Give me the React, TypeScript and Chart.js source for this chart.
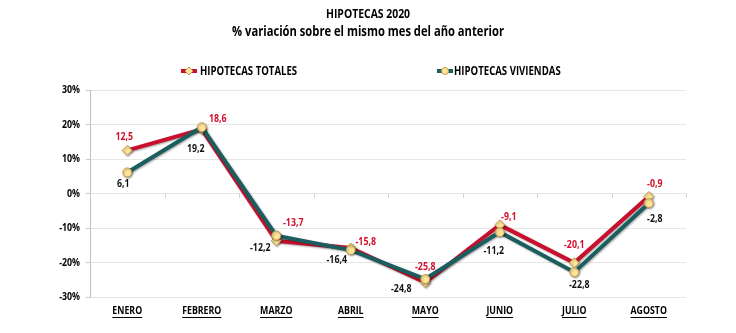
import React, { useEffect, useRef } from "react";
import { Chart, registerables } from "chart.js";

Chart.register(...registerables);

const categories = ["ENERO", "FEBRERO", "MARZO", "ABRIL", "MAYO", "JUNIO", "JULIO", "AGOSTO"];
const totales = [12.5, 18.6, -13.7, -15.8, -25.8, -9.1, -20.1, -0.9];
const viviendas = [6.1, 19.2, -12.2, -16.4, -24.8, -11.2, -22.8, -2.8];
const yMin = -30;
const yMax = 30;
const yStep = 10;

const titleText = "HIPOTECAS 2020";
const subtitleText = "% variación sobre el mismo mes del año anterior";

// label offsets (dx, dy) from the point, in px
const totalesLabelOffsets = [[-3, -14], [16, -10], [17, -18], [15, -6], [0, -16], [9, -8], [0, -18], [6, -13]];
const viviendasLabelOffsets = [[-4, 11], [-6, 22], [-16, 12], [-14, 10], [-24, 10], [-6, 19], [5, 13], [6, 16]];

const FONT = "'Open Sans', Lato, 'DejaVu Sans', sans-serif";
const SX = 0.8; // horizontal text compression to mimic a narrow face
const RED = "#C8102E";
const TEAL = "#1B5E5F";
const MARK_FILL = "#FFE59A";
const MARK_BORDER = "#C49A4A";

const fmt = (v: number) => v.toFixed(1).replace(".", ",");

function txt(ctx: CanvasRenderingContext2D, s: string, x: number, y: number) {
  ctx.save();
  ctx.translate(x, y);
  ctx.scale(SX, 1);
  ctx.fillText(s, 0, 0);
  ctx.restore();
}

const decorPlugin = {
  id: "decor",
  beforeDatasetsDraw(chart: any) {
    const ctx = chart.ctx;
    const xs = chart.scales.x;
    const ys = chart.scales.y;
    const y0 = ys.getPixelForValue(0);
    ctx.save();
    ctx.strokeStyle = "#cfcfcf";
    ctx.lineWidth = 1;
    for (let i = 0; i <= categories.length; i++) {
      const x = Math.round(xs.left + (i * (xs.right - xs.left)) / categories.length) + 0.5;
      ctx.beginPath();
      ctx.moveTo(x, y0);
      ctx.lineTo(x, y0 + 4);
      ctx.stroke();
    }
    ctx.restore();
  },
  afterDraw(chart: any) {
    const ctx = chart.ctx;
    const xs = chart.scales.x;
    const ys = chart.scales.y;
    ctx.save();
    ctx.fillStyle = "#000";
    ctx.textAlign = "center";
    ctx.textBaseline = "middle";
    ctx.font = `bold 13px ${FONT}`;
    txt(ctx, titleText, chart.width / 2, 14);
    ctx.font = `bold 14px ${FONT}`;
    txt(ctx, subtitleText, chart.width / 2, 32);

    // y tick labels
    ctx.font = `bold 11px ${FONT}`;
    ctx.textAlign = "right";
    ys.ticks.forEach((t: any) => {
      txt(ctx, `${t.value}%`, ys.right - 10, ys.getPixelForValue(t.value));
    });

    // legend
    const legend = [
      { text: chart.data.datasets[0].label, color: RED, style: "rectRot", cx: 189, tx: 200 },
      { text: chart.data.datasets[1].label, color: TEAL, style: "circle", cx: 445, tx: 454 },
    ];
    ctx.font = `bold 12px ${FONT}`;
    ctx.textAlign = "left";
    for (const it of legend) {
      const ly = 71;
      ctx.strokeStyle = it.color;
      ctx.lineWidth = 4;
      ctx.beginPath();
      ctx.moveTo(it.cx - 8, ly);
      ctx.lineTo(it.cx + 8, ly);
      ctx.stroke();
      ctx.fillStyle = MARK_FILL;
      ctx.strokeStyle = MARK_BORDER;
      ctx.lineWidth = 1;
      ctx.beginPath();
      if (it.style === "circle") {
        ctx.arc(it.cx, ly, 3.5, 0, Math.PI * 2);
      } else {
        ctx.moveTo(it.cx, ly - 4);
        ctx.lineTo(it.cx + 4, ly);
        ctx.lineTo(it.cx, ly + 4);
        ctx.lineTo(it.cx - 4, ly);
        ctx.closePath();
      }
      ctx.fill();
      ctx.stroke();
      ctx.fillStyle = "#000";
      txt(ctx, it.text, it.tx, ly + 0.5);
    }

    // x labels, underlined
    ctx.font = `bold 11px ${FONT}`;
    ctx.textAlign = "center";
    ctx.fillStyle = "#000";
    ctx.strokeStyle = "#000";
    ctx.lineWidth = 1;
    categories.forEach((c, i) => {
      const x = xs.getPixelForTick(i);
      const ty = 311;
      txt(ctx, c, x, ty);
      const w = ctx.measureText(c).width * SX;
      ctx.beginPath();
      ctx.moveTo(x - w / 2, ty + 6.5);
      ctx.lineTo(x + w / 2, ty + 6.5);
      ctx.stroke();
    });

    // data labels
    const sets = [
      { meta: chart.getDatasetMeta(0), vals: totales, offs: totalesLabelOffsets, color: "#D0102A" },
      { meta: chart.getDatasetMeta(1), vals: viviendas, offs: viviendasLabelOffsets, color: "#111" },
    ];
    ctx.font = `bold 11px ${FONT}`;
    ctx.textAlign = "center";
    for (const s of sets) {
      ctx.fillStyle = s.color;
      s.meta.data.forEach((pt: any, i: number) => {
        const [dx, dy] = s.offs[i];
        txt(ctx, fmt(s.vals[i]), pt.x + dx, pt.y + dy);
      });
    }
    ctx.restore();
  },
};

const shadowPlugin = {
  id: "lineShadow",
  beforeDatasetDraw(chart: any) {
    const ctx = chart.ctx;
    ctx.save();
    ctx.shadowColor = "rgba(0,0,0,0.35)";
    ctx.shadowBlur = 2;
    ctx.shadowOffsetX = 1;
    ctx.shadowOffsetY = 1;
  },
  afterDatasetDraw(chart: any) {
    chart.ctx.restore();
  },
};

export default function App() {
  const ref = useRef<HTMLCanvasElement | null>(null);
  useEffect(() => {
    if (!ref.current) return;
    const chart = new Chart(ref.current, {
      type: "line",
      data: {
        labels: categories,
        datasets: [
          {
            label: "HIPOTECAS TOTALES",
            data: totales,
            borderColor: RED,
            borderWidth: 4,
            pointStyle: "rectRot",
            pointRadius: 5,
            pointBackgroundColor: MARK_FILL,
            pointBorderColor: MARK_BORDER,
            pointBorderWidth: 1,
            tension: 0,
            order: 2,
          },
          {
            label: "HIPOTECAS VIVIENDAS",
            data: viviendas,
            borderColor: TEAL,
            borderWidth: 4,
            pointStyle: "circle",
            pointRadius: 4.5,
            pointBackgroundColor: MARK_FILL,
            pointBorderColor: MARK_BORDER,
            pointBorderWidth: 1,
            tension: 0,
            order: 1,
          },
        ],
      },
      options: {
        animation: false,
        responsive: false,
        maintainAspectRatio: false,
        layout: { padding: { top: 90, right: 50, left: 0, bottom: 0 } },
        plugins: {
          legend: { display: false },
          title: { display: false },
          tooltip: { enabled: false },
        },
        scales: {
          x: {
            type: "category",
            offset: true,
            grid: { display: false },
            border: { display: false },
            ticks: { display: false },
            afterFit: (s: any) => {
              s.height = 36;
            },
          },
          y: {
            min: yMin,
            max: yMax,
            ticks: { stepSize: yStep, display: false },
            grid: { color: "#e6e6e6", tickLength: 4, tickColor: "#c8c8c8" },
            border: { color: "#bfbfbf", width: 1 },
            afterFit: (s: any) => {
              s.width = 90;
            },
          },
        },
      },
      plugins: [shadowPlugin, decorPlugin],
    } as any);
    return () => chart.destroy();
  }, []);
  return (
    <div style={{ position: "fixed", left: 0, top: 0, width: 736, height: 333, background: "#fff" }}>
      <canvas ref={ref} width={736} height={333} style={{ width: 736, height: 333, display: "block" }} />
    </div>
  );
}
